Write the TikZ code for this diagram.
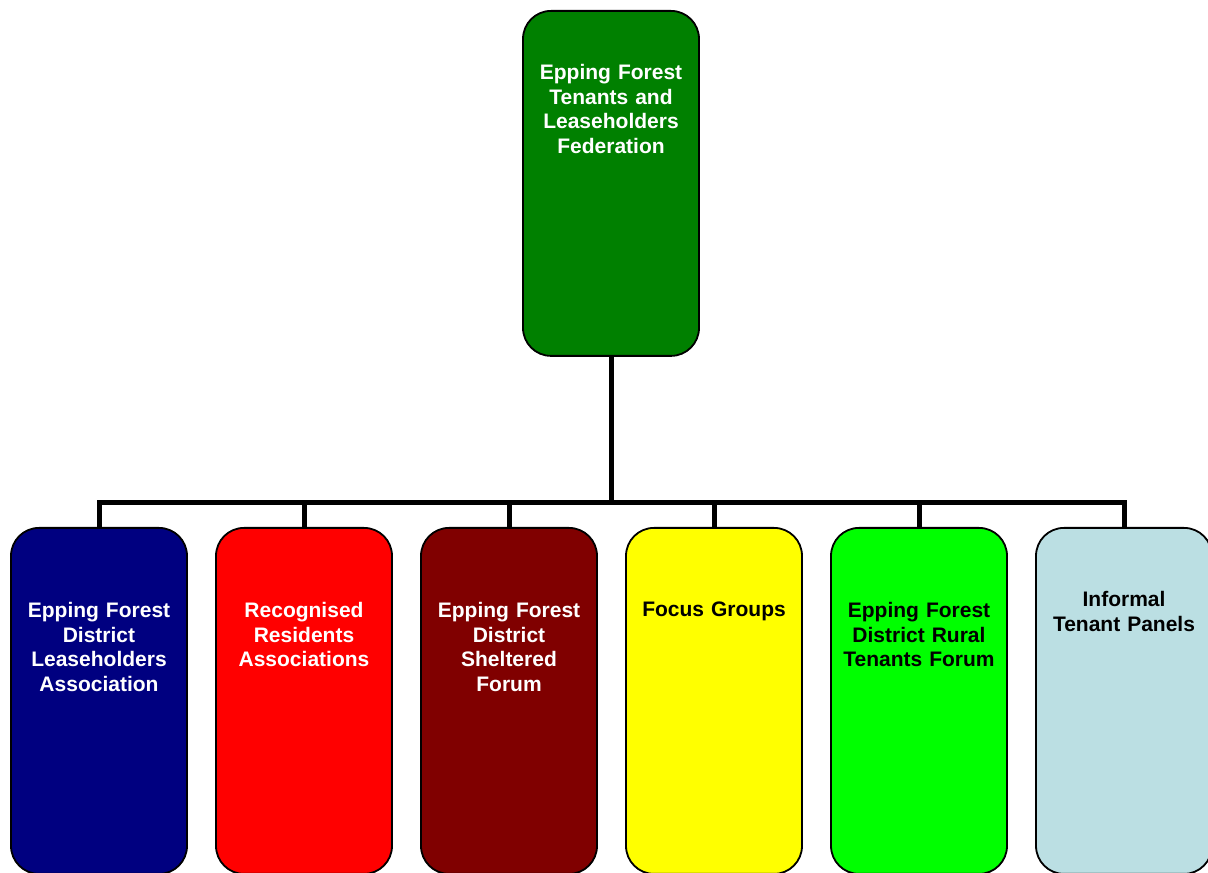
\documentclass[tikz,border=0pt]{standalone}
\usepackage{fontspec}
\setmainfont{Liberation Sans}
\definecolor{topgreen}{HTML}{008000}
\definecolor{cnavy}{HTML}{000080}
\definecolor{cred}{HTML}{FF0000}
\definecolor{cmaroon}{HTML}{800000}
\definecolor{cyellow}{HTML}{FFFF00}
\definecolor{clime}{HTML}{00FF00}
\definecolor{clblue}{HTML}{BBDFE3}
\begin{document}
\begin{tikzpicture}[x=1pt,y=1pt,
  orgbox/.style={draw=black,line width=1.8pt,rounded corners=28pt,minimum width=176pt,anchor=north},
  lbl/.style={font=\bfseries\fontsize{21}{24.7}\selectfont,align=center,anchor=north,inner sep=0pt,text width=174pt},
  conn/.style={line width=5pt,black}]
\useasboundingbox (0,0) rectangle (1208,873);
% top box
\node[orgbox,fill=topgreen,minimum height=345pt] (top) at (611,863) {};
\node[lbl,text=white] (toptxt) at (611,809) {Epping Forest\\Tenants and\\Leaseholders\\Federation};
% bottom boxes
\node[orgbox,fill=cnavy,minimum height=346pt] (b1) at (99,346) {};
\node[orgbox,fill=cred,minimum height=346pt] (b2) at (304,346) {};
\node[orgbox,fill=cmaroon,minimum height=346pt] (b3) at (509,346) {};
\node[orgbox,fill=cyellow,minimum height=346pt] (b4) at (714,346) {};
\node[orgbox,fill=clime,minimum height=346pt] (b5) at (919,346) {};
\node[orgbox,fill=clblue,minimum height=346pt] (b6) at (1124,346) {};
\node[lbl,text=white] (t1) at (99,271) {Epping Forest\\District\\Leaseholders\\Association};
\node[lbl,text=white] (t2) at (304,271) {Recognised\\Residents\\Associations};
\node[lbl,text=white] (t3) at (509,271) {Epping Forest\\District\\Sheltered\\Forum};
\node[lbl,text=black] (t4) at (714,271) {Focus Groups};
\node[lbl,text=black] (t5) at (919,271) {Epping Forest\\District Rural\\Tenants Forum};
\node[lbl,text=black] (t6) at (1124,282) {Informal\\Tenant Panels};
% connectors
\coordinate (hub) at (611,370);
\draw[conn] (top.south) -- (hub);
\draw[conn] (b1.north) |- (hub) -| (b6.north);
\foreach \b in {b2,b3,b4,b5}{\draw[conn] (\b.north) -- (\b.north |- hub);}
\end{tikzpicture}
\end{document}
